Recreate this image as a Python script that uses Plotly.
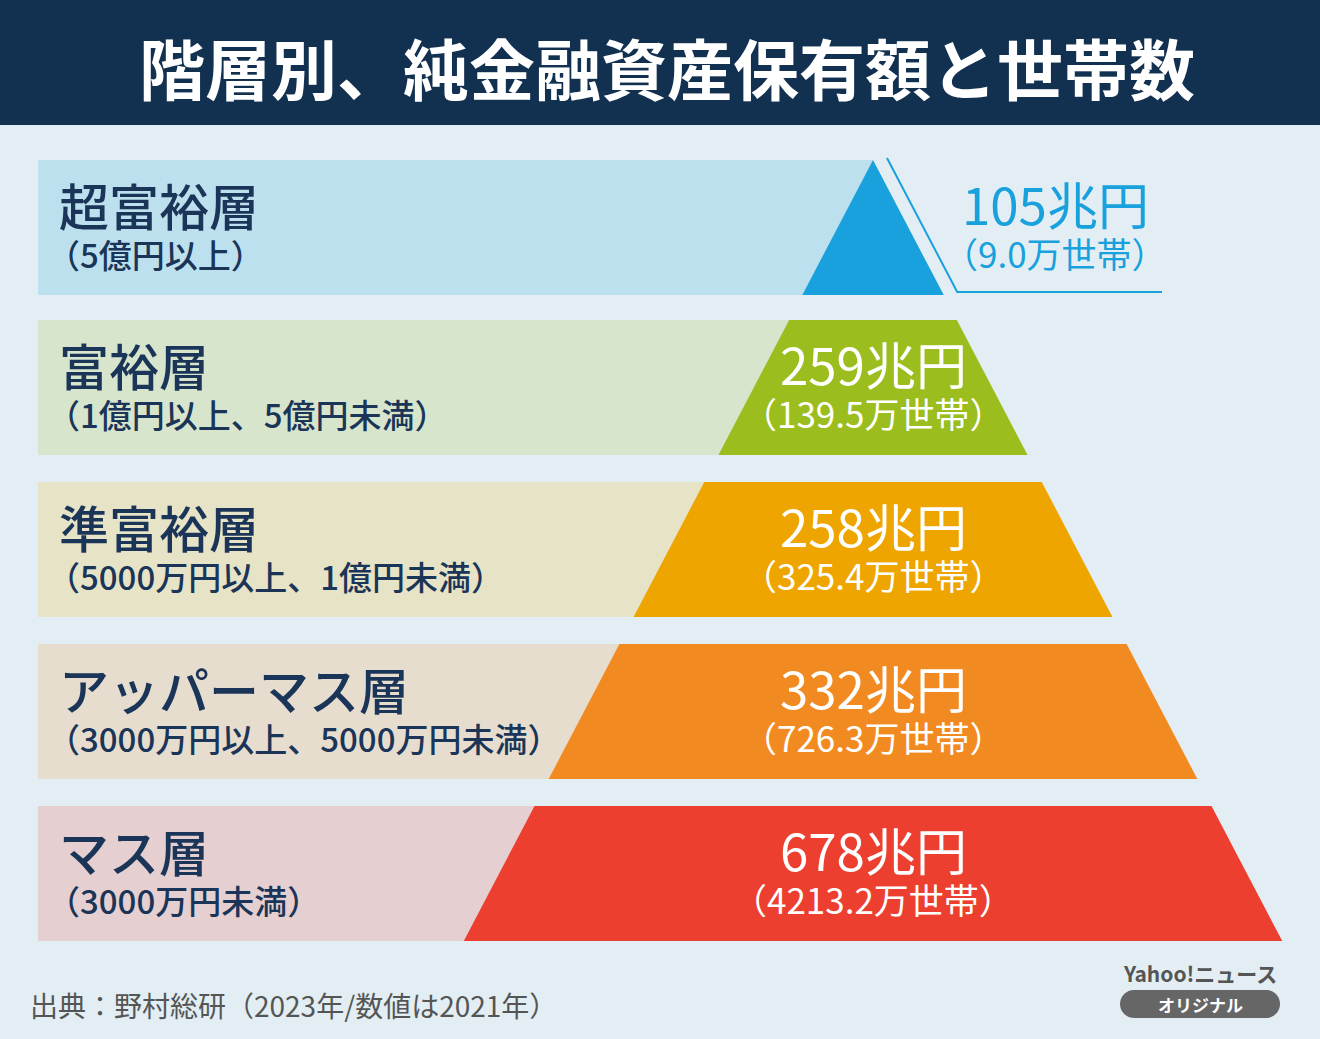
import plotly.graph_objects as go

# data
layers = ["超富裕層", "富裕層", "準富裕層", "アッパーマス層", "マス層"]
ranges = ["（5億円以上）", "（1億円以上、5億円未満）", "（5000万円以上、1億円未満）",
          "（3000万円以上、5000万円未満）", "（3000万円未満）"]
assets_cho_yen = [105, 259, 258, 332, 678]
households_man = [9.0, 139.5, 325.4, 726.3, 4213.2]

band_colors = ["#bde0ef", "#d6e5cc", "#e6e3c6", "#e7ddcf", "#e6cfd0"]
tri_colors = ["#18a1dc", "#9bbd1d", "#eea500", "#f28a22", "#ec3f30"]

W, H = 1320, 1039
FONT = "Noto Sans CJK JP"
NAVY = "#1a3557"

# pyramid geometry (pixels)
APEX_X, APEX_Y = 873, 160
SLOPE = 0.524  # dx per dy
BAND_X0 = 38
row_tops = [160, 320, 482, 644, 806]
row_h = 135


def left_x(y):
    return APEX_X - SLOPE * (y - APEX_Y)


def right_x(y):
    return APEX_X + SLOPE * (y - APEX_Y)


fig = go.Figure()

for i, top in enumerate(row_tops):
    bot = top + row_h
    # light band, cut by the pyramid's left edge
    fig.add_trace(go.Scatter(
        x=[BAND_X0, left_x(top), left_x(bot), BAND_X0, BAND_X0],
        y=[top, top, bot, bot, top],
        fill="toself", fillcolor=band_colors[i], line=dict(width=0),
        mode="lines", hoverinfo="skip", showlegend=False))
    # pyramid slice
    fig.add_trace(go.Scatter(
        x=[left_x(top), right_x(top), right_x(bot), left_x(bot), left_x(top)],
        y=[top, top, bot, bot, top],
        fill="toself", fillcolor=tri_colors[i], line=dict(width=0),
        mode="lines", hoverinfo="skip", showlegend=False))

# callout line for the top layer
fig.add_trace(go.Scatter(
    x=[887, 887 + SLOPE * 134, 1162], y=[158, 292, 292],
    mode="lines", line=dict(color="#18a1dc", width=2),
    hoverinfo="skip", showlegend=False))

# rounded pill for "オリジナル"
px0, px1, py0, py1, r = 1120, 1280, 990, 1018, 14
k = 0.55 * r
pill = (f"M {px0 + r},{py0} L {px1 - r},{py0} "
        f"C {px1 - r + k},{py0} {px1},{py0 + r - k} {px1},{py0 + r} "
        f"C {px1},{py1 - r + k} {px1 - r + k},{py1} {px1 - r},{py1} "
        f"L {px0 + r},{py1} "
        f"C {px0 + r - k},{py1} {px0},{py1 - r + k} {px0},{py1 - r} "
        f"C {px0},{py0 + r - k} {px0 + r - k},{py0} {px0 + r},{py0} Z")

shapes = [
    dict(type="rect", xref="x", yref="y", x0=0, x1=W, y0=0, y1=125,
         fillcolor="#12304f", line=dict(width=0), layer="below"),
    dict(type="path", xref="x", yref="y", path=pill,
         fillcolor="#666666", line=dict(width=0)),
]

annotations = [
    dict(x=667, y=66, text="<b>階層別、純金融資産保有額と世帯数</b>",
         font=dict(family=FONT, size=66, color="white")),
]

for i, top in enumerate(row_tops):
    mid = top + row_h / 2
    annotations.append(dict(x=57, y=mid - 24, text=layers[i], xanchor="left",
                            font=dict(family=FONT, size=50, color=NAVY, weight=500)))
    annotations.append(dict(x=45, y=mid + 26, text=ranges[i], xanchor="left",
                            font=dict(family=FONT, size=33, color=NAVY, weight=500)))
    if i == 0:
        vx, col = 1055, "#18a1dc"
    else:
        vx, col = APEX_X, "white"
    annotations.append(dict(x=vx, y=mid - 25, text=f"{assets_cho_yen[i]}兆円",
                            font=dict(family=FONT, size=51, color=col, weight=400)))
    annotations.append(dict(x=vx, y=mid + 25, text=f"（{households_man[i]:.1f}万世帯）",
                            font=dict(family=FONT, size=35, color=col, weight=400)))

annotations += [
    dict(x=28, y=1005, text="出典：野村総研（2023年/数値は2021年）", xanchor="left",
         font=dict(family=FONT, size=28, color="#555555")),
    dict(x=1200, y=973, text="<b>Yahoo!ニュース</b>",
         font=dict(family=FONT, size=21, color="#555555")),
    dict(x=1200, y=1004, text="<b>オリジナル</b>",
         font=dict(family=FONT, size=17, color="white")),
]
for a in annotations:
    a.update(xref="x", yref="y", showarrow=False)
    a.setdefault("xanchor", "center")
    a.setdefault("yanchor", "middle")

fig.update_layout(
    width=W, height=H, margin=dict(l=0, r=0, t=0, b=0),
    paper_bgcolor="#e2eef3", plot_bgcolor="#e2eef3",
    xaxis=dict(range=[0, W], visible=False, fixedrange=True),
    yaxis=dict(range=[H, 0], visible=False, fixedrange=True),
    shapes=shapes, annotations=annotations,
)

fig.write_html("out.html", config={"displayModeBar": False},
               post_script="document.body.style.margin='0';document.body.style.overflow='hidden';")
